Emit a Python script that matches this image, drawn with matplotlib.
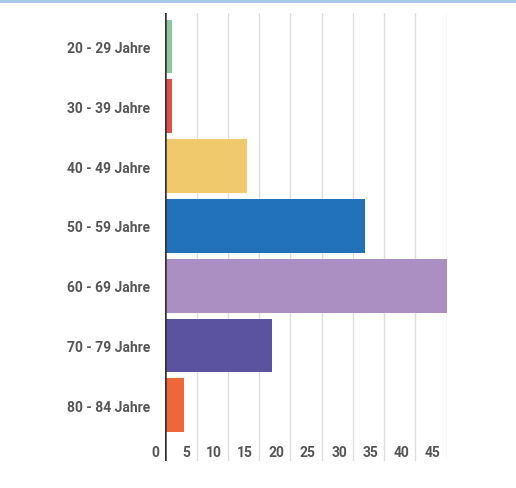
import matplotlib
matplotlib.use("Agg")
import matplotlib.pyplot as plt
from matplotlib.patches import Rectangle
import matplotlib.transforms as mtransforms

categories = ["20 - 29 Jahre", "30 - 39 Jahre", "40 - 49 Jahre", "50 - 59 Jahre",
              "60 - 69 Jahre", "70 - 79 Jahre", "80 - 84 Jahre"]
values = [1, 1, 13, 32, 45, 17, 3]
colors = ["#8cc7a4", "#dd4f4f", "#f0c96c", "#2272b9", "#ab8fc3", "#5c53a0", "#ee673a"]
xticks = [0, 5, 10, 15, 20, 25, 30, 35, 40, 45]

plt.rcParams['font.family'] = ['Roboto', 'DejaVu Sans']

W, H = 516, 489
fig = plt.figure(figsize=(W / 100, H / 100), dpi=100)
fig.patch.set_facecolor("white")

# top light-blue band
fig.patches.append(Rectangle((0, 1 - 4 / H), 1, 4 / H, transform=fig.transFigure,
                             facecolor="#a9c9e8", edgecolor="none"))

left, right, top, bottom = 165.4, 446.7, 14, 462
ax = fig.add_axes([left / W, 1 - bottom / H, (right - left) / W, (bottom - top) / H])

y = list(range(len(categories)))
ax.barh(y, values, height=0.9, color=colors, zorder=2)
ax.set_xlim(0, 45)
ax.set_ylim(6.93, -0.56)

for t in xticks[1:]:
    ax.axvline(t, color="#dedede", lw=1, zorder=1)
ax.axvline(0, color="#333333", lw=1.8, zorder=3)

for s in ax.spines.values():
    s.set_visible(False)
ax.set_xticks([])
ax.set_yticks(y)
ax.set_yticklabels(categories, fontsize=10, color="#555555", fontweight="bold")
ax.tick_params(axis="y", length=0, pad=11)

trans = mtransforms.blended_transform_factory(ax.transData, ax.transAxes)
offset = mtransforms.ScaledTranslation(-6 / 100, 0, fig.dpi_scale_trans)
for t in xticks:
    ax.text(t, 9 / (bottom - top), str(t), transform=trans + offset, ha="right", va="center",
            fontsize=10, color="#555555", fontweight="bold")

fig.savefig("out.png", dpi=100)
